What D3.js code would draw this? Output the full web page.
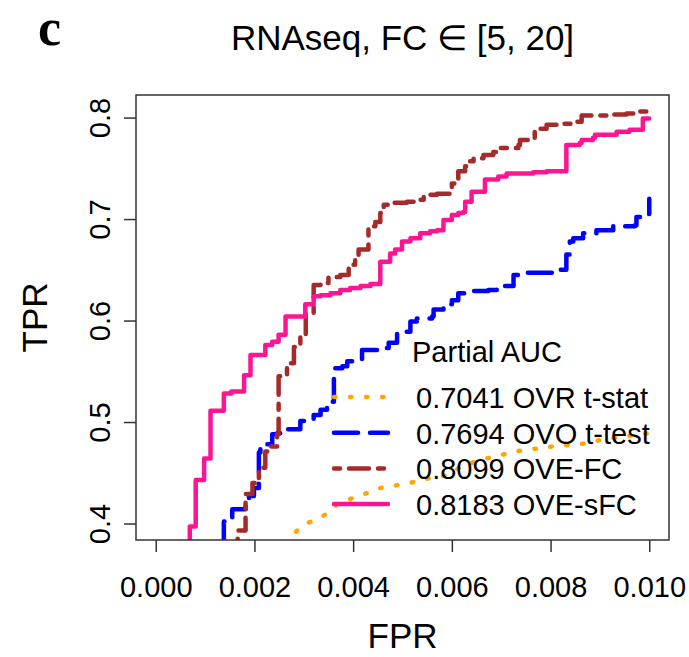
<!DOCTYPE html>
<html>
<head>
<meta charset="utf-8">
<script src="https://cdn.jsdelivr.net/npm/d3@7/dist/d3.min.js"></script>
<style>
	body { margin: 0; background: #fff; }
	text { font-family: "Liberation Sans", Arial, sans-serif; fill: #000; }
</style>
</head>
<body>
<svg id="chart" width="689" height="657"></svg>
<script>
"use strict";

// ROC points (FPR, TPR), one pair of arrays per method
var ovrFpr = [0.00267, 0.00276, 0.00293, 0.00310, 0.00334, 0.00354, 0.00367, 0.00384, 0.00408, 0.00435, 0.00455, 0.00516, 0.00536, 0.00583, 0.00597, 0.00623, 0.00647, 0.00677, 0.00704, 0.00731, 0.00752, 0.00779, 0.00805, 0.00873, 0.00907, 0.00954, 0.01000];
var ovrTpr = [0.379, 0.388, 0.396, 0.401, 0.406, 0.412, 0.419, 0.422, 0.427, 0.431, 0.435, 0.440, 0.443, 0.447, 0.451, 0.456, 0.461, 0.465, 0.468, 0.471, 0.473, 0.474, 0.476, 0.479, 0.483, 0.486, 0.489];

var ovoFpr = [0.00138, 0.00138, 0.00155, 0.00182, 0.00189, 0.00199, 0.00209, 0.00212, 0.00226, 0.00236, 0.00246, 0.00253, 0.00276, 0.00293, 0.00320, 0.00334, 0.00347, 0.00350, 0.00361, 0.00378, 0.00388, 0.00404, 0.00418, 0.00462, 0.00472, 0.00489, 0.00516, 0.00529, 0.00560, 0.00563, 0.00583, 0.00597, 0.00600, 0.00613, 0.00627, 0.00674, 0.00691, 0.00725, 0.00738, 0.00792, 0.00812, 0.00832, 0.00839, 0.00846, 0.00866, 0.00893, 0.00927, 0.00971, 0.00974, 0.00998, 0.01000];
var ovoTpr = [0.379, 0.402, 0.414, 0.424, 0.427, 0.435, 0.470, 0.476, 0.478, 0.488, 0.489, 0.493, 0.493, 0.501, 0.507, 0.512, 0.514, 0.520, 0.553, 0.555, 0.560, 0.562, 0.571, 0.573, 0.578, 0.589, 0.599, 0.602, 0.604, 0.611, 0.613, 0.616, 0.620, 0.627, 0.629, 0.630, 0.634, 0.645, 0.647, 0.647, 0.650, 0.665, 0.678, 0.681, 0.686, 0.689, 0.693, 0.694, 0.702, 0.705, 0.720];

var ovefcFpr = [0.00166, 0.00166, 0.00182, 0.00196, 0.00209, 0.00222, 0.00229, 0.00246, 0.00249, 0.00266, 0.00280, 0.00293, 0.00304, 0.00320, 0.00334, 0.00350, 0.00374, 0.00391, 0.00404, 0.00411, 0.00431, 0.00445, 0.00455, 0.00462, 0.00482, 0.00509, 0.00529, 0.00543, 0.00570, 0.00600, 0.00610, 0.00613, 0.00627, 0.00630, 0.00644, 0.00664, 0.00684, 0.00694, 0.00711, 0.00735, 0.00738, 0.00758, 0.00768, 0.00779, 0.00792, 0.00826, 0.00846, 0.00863, 0.00920, 0.00954, 0.00981, 0.00997];
var ovefcTpr = [0.379, 0.393, 0.429, 0.440, 0.455, 0.471, 0.476, 0.488, 0.545, 0.558, 0.574, 0.586, 0.607, 0.635, 0.637, 0.643, 0.645, 0.655, 0.661, 0.670, 0.693, 0.697, 0.706, 0.714, 0.716, 0.717, 0.719, 0.724, 0.725, 0.735, 0.740, 0.747, 0.752, 0.757, 0.760, 0.763, 0.766, 0.770, 0.770, 0.773, 0.778, 0.780, 0.788, 0.789, 0.793, 0.794, 0.796, 0.802, 0.803, 0.804, 0.806, 0.806];

var ovesfcFpr = [0.00069, 0.00069, 0.00081, 0.00098, 0.00111, 0.00138, 0.00153, 0.00179, 0.00192, 0.00222, 0.00236, 0.00249, 0.00263, 0.00303, 0.00320, 0.00334, 0.00354, 0.00374, 0.00394, 0.00415, 0.00435, 0.00455, 0.00475, 0.00485, 0.00499, 0.00516, 0.00536, 0.00556, 0.00570, 0.00583, 0.00600, 0.00613, 0.00623, 0.00627, 0.00640, 0.00667, 0.00694, 0.00711, 0.00765, 0.00792, 0.00832, 0.00859, 0.00863, 0.00886, 0.00890, 0.00934, 0.00960, 0.00987, 0.01000];
var ovesfcTpr = [0.379, 0.397, 0.443, 0.464, 0.511, 0.528, 0.530, 0.546, 0.566, 0.576, 0.579, 0.586, 0.604, 0.616, 0.624, 0.625, 0.627, 0.630, 0.632, 0.634, 0.636, 0.658, 0.666, 0.670, 0.678, 0.681, 0.686, 0.688, 0.689, 0.699, 0.704, 0.706, 0.707, 0.717, 0.727, 0.739, 0.742, 0.745, 0.746, 0.747, 0.773, 0.775, 0.778, 0.780, 0.783, 0.786, 0.788, 0.799, 0.799];

var aucValues = ["0.7041", "0.7694", "0.8099", "0.8183"];
var methodNames = ["OVR t-stat", "OVO t-test", "OVE-FC", "OVE-sFC"];
var xTicks = [0, 0.002, 0.004, 0.006, 0.008, 0.010];
var yTicks = [0.4, 0.5, 0.6, 0.7, 0.8];

var series = [
	{ fpr: ovrFpr, tpr: ovrTpr, color: "orange", dash: "1.5 14.5", curve: d3.curveLinear },
	{ fpr: ovoFpr, tpr: ovoTpr, color: "blue", dash: "24 12", curve: d3.curveStepAfter },
	{ fpr: ovefcFpr, tpr: ovefcTpr, color: "brown", dash: "6 9 20 9", curve: d3.curveStepAfter },
	{ fpr: ovesfcFpr, tpr: ovesfcTpr, color: "deeppink", dash: null, curve: d3.curveStepAfter }
];

var box = { left: 136, right: 669, top: 95, bottom: 540 },
	lineW = 4.5,
	svg = d3.select("#chart");

// R-style 4% padding around the data range
function padded(lo, hi) {
	var p = (hi - lo) * 0.04;
	return [lo - p, hi + p];
}

var xScale = d3.scaleLinear().domain(padded(0, 0.01)).range([box.left, box.right]);
var yScale = d3.scaleLinear().domain(padded(0.4, 0.806)).range([box.bottom, box.top]);

svg.append("rect")
	.attr("width", 689)
	.attr("height", 657)
	.attr("fill", "#fff");

svg.append("defs").append("clipPath")
	.attr("id", "plotClip")
	.append("rect")
		.attr("x", box.left)
		.attr("y", box.top)
		.attr("width", box.right - box.left)
		.attr("height", box.bottom - box.top);

// curves
var curveG = svg.append("g").attr("clip-path", "url(#plotClip)");
series.forEach(function(s) {
	var pts = s.fpr.map(function(f, i) { return [f, s.tpr[i]]; });
	var line = d3.line()
		.x(function(d) { return xScale(d[0]); })
		.y(function(d) { return yScale(d[1]); })
		.curve(s.curve);
	curveG.append("path")
		.attr("d", line(pts))
		.attr("fill", "none")
		.attr("stroke", s.color)
		.attr("stroke-width", lineW)
		.attr("stroke-linecap", "round")
		.attr("stroke-linejoin", "round")
		.attr("stroke-dasharray", s.dash);
});

// axes
var xAxis = svg.append("g")
	.attr("transform", "translate(0," + box.bottom + ")")
	.call(d3.axisBottom(xScale).tickValues(xTicks).tickFormat(d3.format(".3f")).tickSize(12).tickPadding(24));

var yAxis = svg.append("g")
	.attr("transform", "translate(" + box.left + ",0)")
	.call(d3.axisLeft(yScale).tickValues(yTicks).tickFormat(d3.format(".1f")).tickSize(12));

[xAxis, yAxis].forEach(function(g) {
	g.select(".domain").remove();
	g.selectAll(".tick line").attr("stroke", "#333").attr("stroke-width", 1.5);
	g.selectAll(".tick text").style("font-size", "29px").attr("fill", "#000");
});

yAxis.selectAll(".tick text")
	.attr("transform", "rotate(-90)")
	.attr("x", 0)
	.attr("y", -26)
	.attr("dy", 0)
	.attr("text-anchor", "middle");

svg.append("rect")
	.attr("x", box.left)
	.attr("y", box.top)
	.attr("width", box.right - box.left)
	.attr("height", box.bottom - box.top)
	.attr("fill", "none")
	.attr("stroke", "#333")
	.attr("stroke-width", 1.5);

// titles
svg.append("text")
	.attr("x", (box.left + box.right) / 2)
	.attr("y", 50)
	.attr("text-anchor", "middle")
	.style("font-size", "35px")
	.text("RNAseq, FC \u2208 [5, 20]");

svg.append("text")
	.attr("x", 38)
	.attr("y", 45)
	.style("font-family", "'Liberation Serif', 'Times New Roman', serif")
	.style("font-weight", "bold")
	.style("font-size", "52px")
	.text("c");

svg.append("text")
	.attr("x", (box.left + box.right) / 2)
	.attr("y", 648)
	.attr("text-anchor", "middle")
	.style("font-size", "35px")
	.text("FPR");

svg.append("text")
	.attr("transform", "translate(47," + (box.top + box.bottom) / 2 + ") rotate(-90)")
	.attr("text-anchor", "middle")
	.style("font-size", "35px")
	.text("TPR");

// legend
var legend = svg.append("g");
legend.append("text")
	.attr("x", 412)
	.attr("y", 362)
	.style("font-size", "29px")
	.text("Partial AUC");

var rows = legend.selectAll("g.row")
	.data(series)
	.enter().append("g")
		.attr("class", "row")
		.attr("transform", function(d, i) { return "translate(0," + (408 + i * 35.7) + ")"; });

rows.append("line")
	.attr("x1", 334)
	.attr("x2", 388)
	.attr("y1", -11)
	.attr("y2", -11)
	.attr("stroke", function(d) { return d.color; })
	.attr("stroke-width", lineW)
	.attr("stroke-linecap", "round")
	.attr("stroke-dasharray", function(d) { return d.dash; });

rows.append("text")
	.attr("x", 416)
	.attr("y", 0)
	.style("font-size", "29px")
	.text(function(d, i) { return aucValues[i] + " " + methodNames[i]; });
</script>
</body>
</html>
